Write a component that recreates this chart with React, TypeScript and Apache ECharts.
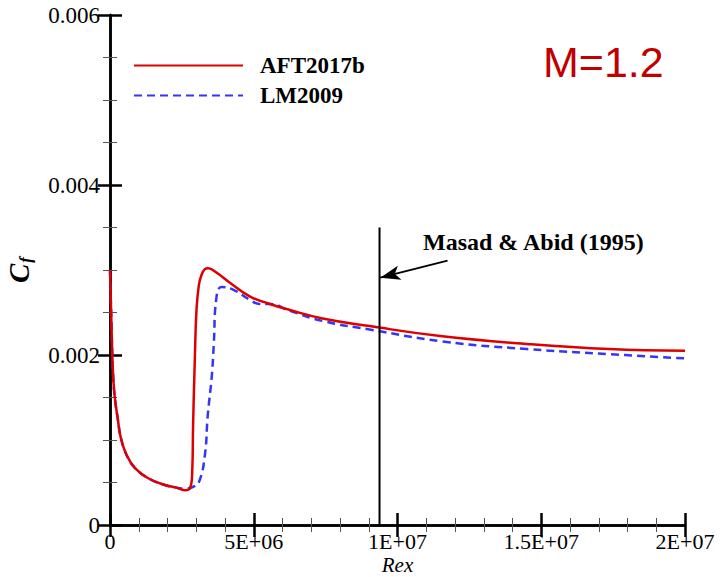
import React, { useEffect, useRef } from "react";
import * as echarts from "echarts";

// AFT2017b (red, solid)
const rexA = [0, 0.04e6, 0.08e6, 0.115e6, 0.17e6, 0.27e6, 0.38e6, 0.58e6, 0.87e6, 1.33e6, 1.91e6, 2.3e6, 2.6e6, 2.78e6, 2.86e6, 2.89e6, 2.95e6, 3.01e6, 3.09e6, 3.17e6, 3.3e6, 3.41e6, 3.7e6, 4.17e6, 4.86e6, 5.56e6, 6.25e6, 7.4e6, 9.03e6, 11.56e6, 14.5e6, 17.36e6, 20e6];
const cfA = [0.0030, 0.0025, 0.0020, 0.00172, 0.00149, 0.00125, 0.00102, 0.00082, 0.00067, 0.00055, 0.00047, 0.00044, 0.00041, 0.00043, 0.00063, 0.00117, 0.00195, 0.00254, 0.00282, 0.00293, 0.00301, 0.00302, 0.00297, 0.00285, 0.00269, 0.0026, 0.00253, 0.00243, 0.00234, 0.00222, 0.00213, 0.00207, 0.00205];

// LM2009 (blue, dashed)
const rexB = [0, 0.04e6, 0.08e6, 0.115e6, 0.17e6, 0.27e6, 0.38e6, 0.58e6, 0.87e6, 1.33e6, 1.91e6, 2.3e6, 2.6e6, 2.9e6, 3.1e6, 3.3e6, 3.4e6, 3.54e6, 3.61e6, 3.7e6, 3.88e6, 4.28e6, 4.86e6, 5.2e6, 5.56e6, 6.25e6, 7.4e6, 9.03e6, 11.56e6, 14.5e6, 17.36e6, 20e6];
const cfB = [0.0030, 0.0025, 0.0020, 0.00172, 0.00149, 0.00125, 0.00102, 0.00082, 0.00067, 0.00055, 0.00047, 0.00044, 0.00043, 0.00045, 0.00051, 0.00082, 0.00129, 0.00175, 0.00213, 0.00267, 0.0028, 0.00277, 0.00265, 0.0026, 0.0026, 0.00252, 0.0024, 0.0023, 0.00216, 0.00207, 0.00201, 0.00196];

// Masad & Abid (1995) marker line and arrow (data coords)
const masadRex = [9.375e6, 9.375e6];
const masadCf = [0, 0.0035];
const arrowFrom = [11.74e6, 0.00311];
const arrowTo = [9.4e6, 0.00291];

const seriesNames = ["AFT2017b", "LM2009"];
const xTickLabels = ["0", "5E+06", "1E+07", "1.5E+07", "2E+07"];
const yTickLabels = ["0", "0.002", "0.004", "0.006"];

const SERIF = '"Liberation Serif", "Times New Roman", serif';

export default function App() {
  const ref = useRef<HTMLDivElement>(null);
  useEffect(() => {
    if (!ref.current) return;
    const chart = echarts.init(ref.current, undefined, { renderer: "svg" });
    const tickCommon = {
      axisLine: { show: true, lineStyle: { color: "#000", width: 2.5 } },
      axisTick: { show: true, inside: true, length: 12, lineStyle: { color: "#000", width: 2.5 } },
      minorTick: { show: true, length: 7, lineStyle: { color: "#555", width: 1 } },
      splitLine: { show: false },
    };
    const xBase = { type: "value", min: 0, max: 2e7, interval: 5e6, ...tickCommon, minorTick: { ...tickCommon.minorTick, splitNumber: 5 } };
    const yBase = { type: "value", min: 0, max: 0.006, interval: 0.002, ...tickCommon, minorTick: { ...tickCommon.minorTick, splitNumber: 4 } };
    const option = {
      animation: false,
      backgroundColor: "#fff",
      grid: { left: 110, right: 39, top: 15, bottom: 52, containLabel: false, outerBoundsMode: "none" },
      legend: {
        data: seriesNames,
        orient: "vertical",
        left: 133,
        top: 54,
        padding: 0,
        itemWidth: 109,
        itemHeight: 14,
        itemGap: 7,
        itemStyle: { opacity: 0 },
        textStyle: { fontFamily: SERIF, fontWeight: "bold", fontSize: 23, color: "#000", padding: [0, 0, 0, 12] },
      },
      xAxis: [
        {
          ...xBase,
          position: "bottom",
          name: "Rex",
          nameLocation: "middle",
          nameGap: 29,
          nameMoveOverlap: false,
          nameTextStyle: { fontFamily: SERIF, fontStyle: "italic", fontSize: 21, lineHeight: 21, color: "#000" },
          axisLabel: {
            margin: 5,
            fontFamily: SERIF,
            fontSize: 22,
            lineHeight: 22,
            color: "#000",
            formatter: (v: number) => xTickLabels[Math.round(v / 5e6)] ?? "",
          },
        },
        { ...xBase, position: "top", axisLabel: { show: false } },
      ],
      yAxis: [
        {
          ...yBase,
          position: "left",
          name: "{c|C}{f|f}",
          nameLocation: "middle",
          nameRotate: 90,
          nameGap: 76,
          nameTextStyle: {
            rich: {
              c: { fontFamily: SERIF, fontStyle: "italic", fontWeight: "bold", fontSize: 29, color: "#000" },
              f: { fontFamily: SERIF, fontStyle: "italic", fontWeight: "bold", fontSize: 17, color: "#000", padding: [14, 0, 0, 1] },
            },
          },
          axisLabel: {
            margin: 10,
            fontFamily: SERIF,
            fontSize: 23,
            color: "#000",
            formatter: (v: number) => yTickLabels[Math.round(v / 0.002)] ?? "",
          },
        },
        { ...yBase, position: "right", axisLabel: { show: false } },
      ],
      series: [
        {
          name: seriesNames[0],
          type: "line",
          symbol: "none",
          smooth: 0.45,
          data: rexA.map((x, i) => [x, cfA[i]]),
          lineStyle: { color: "#DD0000", width: 2.5 },
          itemStyle: { color: "#DD0000" },
          z: 3,
        },
        {
          name: seriesNames[1],
          type: "line",
          symbol: "none",
          smooth: 0.45,
          data: rexB.map((x, i) => [x, cfB[i]]),
          lineStyle: { color: "#3535F5", width: 2.5, type: [8, 5] },
          itemStyle: { color: "#3535F5" },
          z: 2,
        },
        {
          name: "Masad & Abid (1995)",
          type: "line",
          symbol: "none",
          data: masadRex.map((x, i) => [x, masadCf[i]]),
          lineStyle: { color: "#000", width: 2 },
          z: 4,
          markLine: {
            silent: true,
            symbol: ["none", "arrow"],
            symbolSize: [11, 20],
            label: { show: false },
            lineStyle: { color: "#000", width: 2, type: "solid" },
            data: [[{ coord: arrowFrom }, { coord: arrowTo }]],
          },
        },
      ],
      graphic: [
        {
          type: "text",
          left: 423,
          top: 230,
          style: { text: "Masad & Abid (1995)", font: `bold 24px ${SERIF}`, fill: "#000" },
        },
        {
          type: "text",
          left: 543,
          top: 40,
          style: { text: "M=1.2", font: '43px "Liberation Sans", Arial, sans-serif', fill: "#C00000" },
        },
      ],
    };
    chart.setOption(option as any);
    return () => chart.dispose();
  }, []);
  return (
    <div
      ref={ref}
      style={{ position: "fixed", left: 0, top: 0, width: 724, height: 577, background: "#fff" }}
    />
  );
}
